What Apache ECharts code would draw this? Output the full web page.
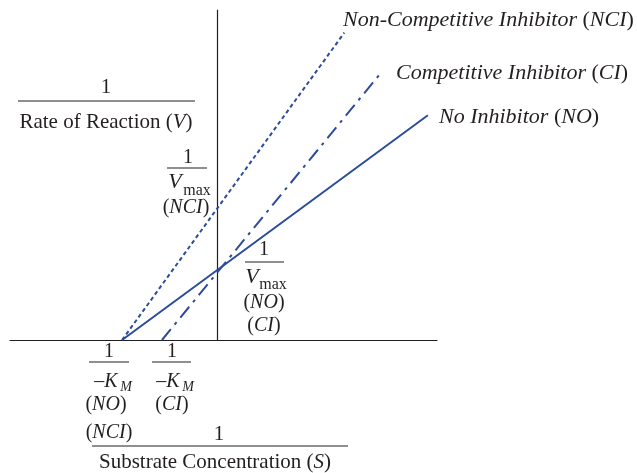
<!DOCTYPE html>
<html>
<head>
<meta charset="utf-8">
<script src="https://cdn.jsdelivr.net/npm/echarts@6/dist/echarts.min.js"></script>
<style>html,body{margin:0;padding:0;background:#fff;}#c{width:637px;height:473px;}</style>
</head>
<body>
<div id="c"></div>
<script>
// Lineweaver-Burk plot (abstract units: x = 1/[S], y = 1/V)
const noInhibitor = [[-1, 0], [2.22, 3.21]];
const competitive = [[-0.58, 0], [1.74, 3.84]];
const nonCompetitive = [[-1, 0], [1.34, 4.39]];
const xRange = [-2.18, 2.316];
const yRange = [0, 4.714];
const seriesNames = ['No Inhibitor', 'Competitive Inhibitor', 'Non-Competitive Inhibitor'];

const blue = '#2b4c9b';
const ink = '#231f20';
const F = '"Liberation Serif", "Times New Roman", serif';
const FS = 20;

function txt(x, y, s, opt) {
  opt = opt || {};
  const size = opt.size || FS;
  return {
    type: 'text', x: x, y: y, silent: true,
    style: {
      text: s, fill: ink, font: (opt.italic ? 'italic ' : '') + size + 'px ' + F,
      textAlign: opt.align || 'center', textVerticalAlign: 'middle',
      rich: {
        i: { fontStyle: 'italic', fontFamily: F, fontSize: size, fill: ink },
        n: { fontStyle: 'normal', fontFamily: F, fontSize: size, fill: ink }
      }
    }
  };
}
function hline(x1, x2, y) {
  return { type: 'line', silent: true, shape: { x1: x1, y1: y, x2: x2, y2: y }, style: { stroke: ink, lineWidth: 1.2 } };
}

const graphics = [
  // y-axis title
  txt(106, 87, '1', { size: 21 }), hline(18, 195, 101), txt(106, 122, 'Rate of Reaction ({i|V})', { size: 21 }),
  // 1/Vmax (NCI)
  txt(188, 158, '1'), hline(167, 207, 168),
  txt(175, 182, 'V', { italic: true, size: 22 }), txt(197, 191, 'max', { size: 16 }),
  txt(186, 208, '({i|NCI})'),
  // 1/Vmax (NO)(CI)
  txt(264, 250, '1'), hline(245, 284, 262),
  txt(252, 277, 'V', { italic: true, size: 22 }), txt(273, 285, 'max', { size: 16 }),
  txt(264, 303, '({i|NO})'), txt(264, 326, '({i|CI})'),
  // 1/-KM (NO)(NCI)
  txt(109, 352, '1'), hline(89, 129, 362),
  txt(106, 382, '\u2013{i|K}'), txt(126, 387, 'M', { italic: true, size: 14 }),
  txt(106, 405, '({i|NO})'), txt(109, 433, '({i|NCI})'),
  // 1/-KM (CI)
  txt(172, 352, '1'), hline(152, 191, 362),
  txt(168, 382, '\u2013{i|K}'), txt(188, 387, 'M', { italic: true, size: 14 }),
  txt(172, 405, '({i|CI})'),
  // x-axis title
  txt(219, 434, '1', { size: 21 }), hline(92, 348, 446), txt(215, 462, 'Substrate Concentration ({i|S})', { size: 21 }),
  // series labels
  txt(343, 20, '{i|Non-Competitive Inhibitor }{n|(}{i|NCI}{n|)}', { align: 'left', size: 22 }),
  txt(396, 73, '{i|Competitive Inhibitor }{n|(}{i|CI}{n|)}', { align: 'left', size: 22 }),
  txt(439, 117, '{i|No Inhibitor }{n|(}{i|NO}{n|)}', { align: 'left', size: 22 })
];

const chart = echarts.init(document.getElementById('c'), null, { renderer: 'canvas' });
chart.setOption({
  animation: false,
  backgroundColor: '#fff',
  grid: { left: 10, right: 200, top: 10, bottom: 133 },
  xAxis: {
    type: 'value', min: xRange[0], max: xRange[1],
    axisLine: { show: true, onZero: true, lineStyle: { color: ink, width: 1.2 } },
    axisTick: { show: false }, axisLabel: { show: false }, splitLine: { show: false }
  },
  yAxis: {
    type: 'value', min: yRange[0], max: yRange[1],
    axisLine: { show: true, onZero: true, lineStyle: { color: ink, width: 1.2 } },
    axisTick: { show: false }, axisLabel: { show: false }, splitLine: { show: false }
  },
  series: [
    { name: seriesNames[0], type: 'line', data: noInhibitor, symbol: 'none', lineStyle: { color: blue, width: 2, type: 'solid' } },
    { name: seriesNames[1], type: 'line', data: competitive, symbol: 'none', lineStyle: { color: blue, width: 2, type: [14, 6, 3, 6] } },
    { name: seriesNames[2], type: 'line', data: nonCompetitive, symbol: 'none', lineStyle: { color: blue, width: 2, type: [4, 3] } }
  ],
  graphic: graphics
});
</script>
</body>
</html>
